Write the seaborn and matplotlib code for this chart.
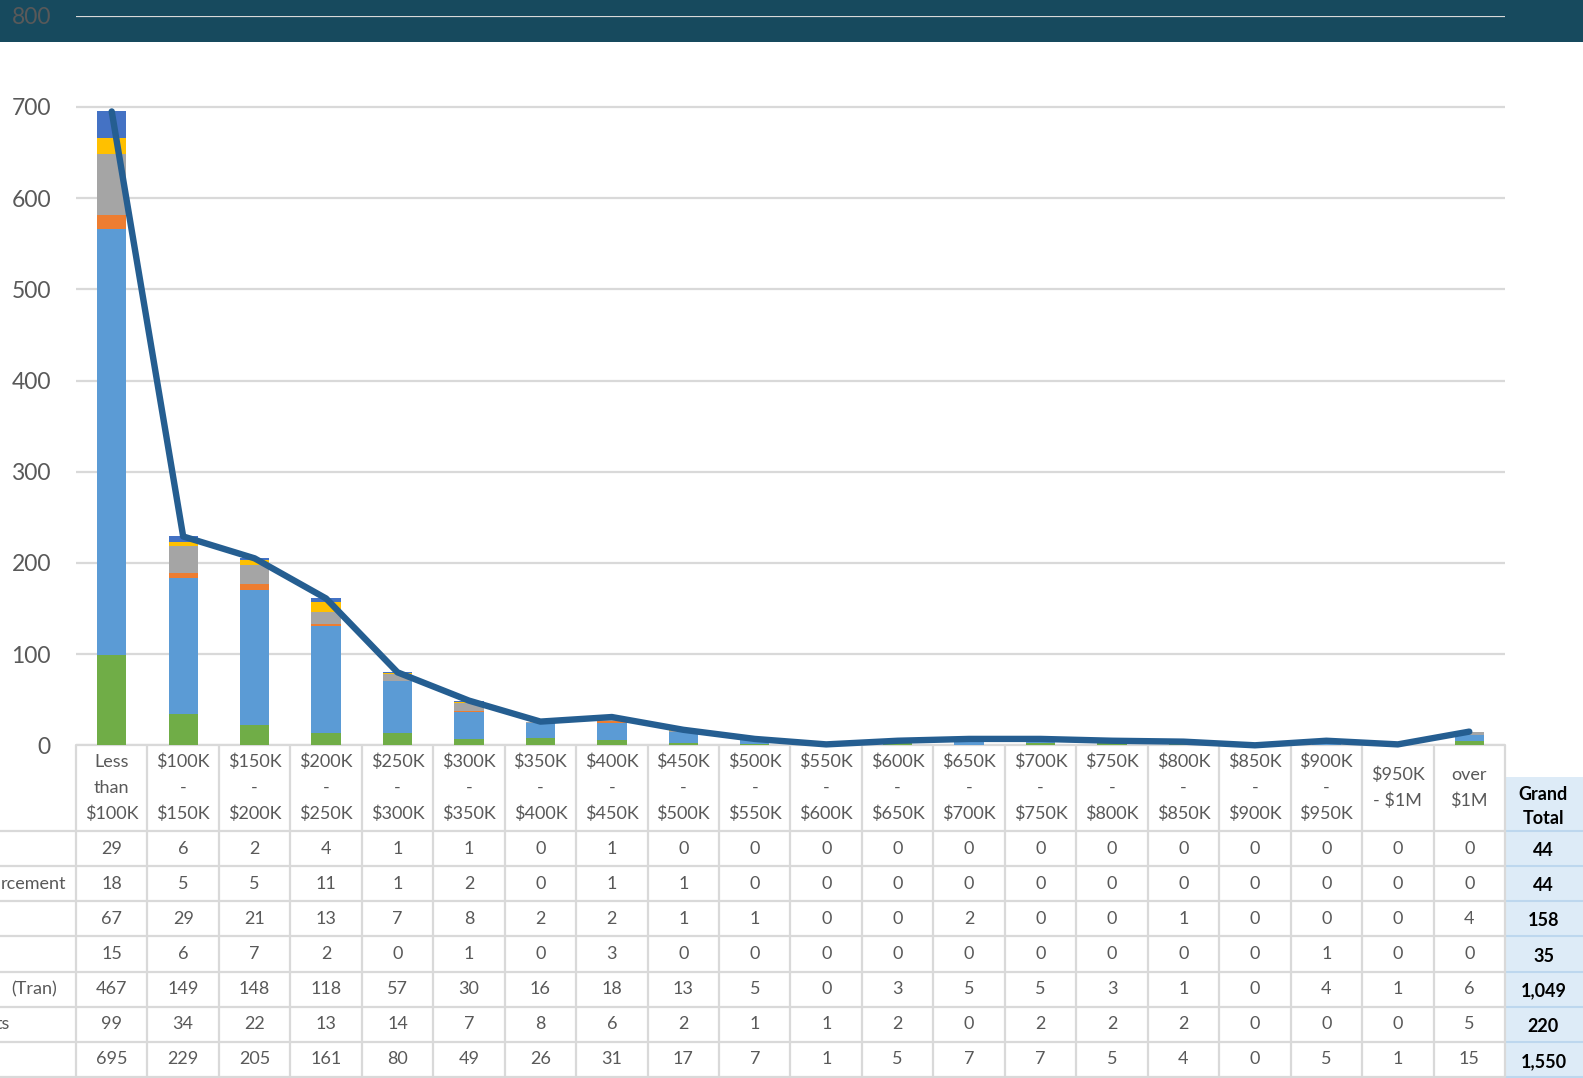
import numpy as np
import pandas as pd
import matplotlib
matplotlib.use("Agg")
import matplotlib.pyplot as plt
from matplotlib.patches import Rectangle
import seaborn as sns

# ---------------- data ----------------
categories = ["Less\nthan\n$100K", "$100K\n-\n$150K", "$150K\n-\n$200K", "$200K\n-\n$250K",
              "$250K\n-\n$300K", "$300K\n-\n$350K", "$350K\n-\n$400K", "$400K\n-\n$450K",
              "$450K\n-\n$500K", "$500K\n-\n$550K", "$550K\n-\n$600K", "$600K\n-\n$650K",
              "$650K\n-\n$700K", "$700K\n-\n$750K", "$750K\n-\n$800K", "$800K\n-\n$850K",
              "$850K\n-\n$900K", "$900K\n-\n$950K", "$950K\n- $1M", "over\n$1M"]

series_1 = [29, 6, 2, 4, 1, 1, 0, 1, 0, 0, 0, 0, 0, 0, 0, 0, 0, 0, 0, 0]          # dark blue
series_2 = [18, 5, 5, 11, 1, 2, 0, 1, 1, 0, 0, 0, 0, 0, 0, 0, 0, 0, 0, 0]         # yellow
series_3 = [67, 29, 21, 13, 7, 8, 2, 2, 1, 1, 0, 0, 2, 0, 0, 1, 0, 0, 0, 4]       # gray
series_4 = [15, 6, 7, 2, 0, 1, 0, 3, 0, 0, 0, 0, 0, 0, 0, 0, 0, 1, 0, 0]          # orange
series_5 = [467, 149, 148, 118, 57, 30, 16, 18, 13, 5, 0, 3, 5, 5, 3, 1, 0, 4, 1, 6]  # light blue
series_6 = [99, 34, 22, 13, 14, 7, 8, 6, 2, 1, 1, 2, 0, 2, 2, 2, 0, 0, 0, 5]      # green
totals = [695, 229, 205, 161, 80, 49, 26, 31, 17, 7, 1, 5, 7, 7, 5, 4, 0, 5, 1, 15]

row_label_fragments = ["", "rcement", "", "", "(Tran)", "ts", ""]

y_ticks = [0, 100, 200, 300, 400, 500, 600, 700, 800]

# ---------------- style ----------------
sns.set_theme(style="white")
plt.rcParams['font.family'] = ['Lato', 'DejaVu Sans']

TXT = '#595959'
GRID = '#D9D9D9'
FS = 13
series_colors = {'s1': '#4472C4', 's2': '#FFC000', 's3': '#A5A5A5',
                 's4': '#ED7D31', 's5': '#5B9BD5', 's6': '#70AD47'}

W, H = 1583, 1078
L, R = 76, 1505
Y0, YTOP = 745.3, 15.7

fig = plt.figure(figsize=(W / 100, H / 100), dpi=100)
fig.patch.set_facecolor('white')

bg = fig.add_axes([0, 0, 1, 1])
bg.set_xlim(0, W)
bg.set_ylim(H, 0)
bg.axis('off')
bg.set_zorder(0)

ax = fig.add_axes([L / W, (H - Y0) / H, (R - L) / W, (Y0 - YTOP) / H])
ax.set_zorder(1)
ax.patch.set_alpha(0)

# top dark band
bg.add_patch(Rectangle((0, 0), W, 41.7, facecolor='#174A5E', lw=0))

# ---------------- stacked bars (bottom -> top) ----------------
stack = [('s6', series_6), ('s5', series_5), ('s4', series_4),
         ('s3', series_3), ('s2', series_2), ('s1', series_1)]
cum = np.cumsum(np.array([s for _, s in stack], dtype=float), axis=0)
for k in reversed(range(len(stack))):
    df = pd.DataFrame({'cat': categories, 'v': cum[k]})
    sns.barplot(data=df, x='cat', y='v', order=categories, color=series_colors[stack[k][0]],
                saturation=1, width=0.41, errorbar=None, linewidth=0, ax=ax)

dfl = pd.DataFrame({'cat': categories, 'v': totals})
sns.lineplot(data=dfl, x='cat', y='v', sort=False, color='#255E91', linewidth=4.6, ax=ax)
for ln in ax.lines:
    ln.set_solid_capstyle('round')
    ln.set_solid_joinstyle('round')
    ln.set_clip_on(False)
    ln.set_zorder(5)

ax.set_xlim(-0.5, 19.5)
ax.set_ylim(0, 800)
ax.set_yticks(y_ticks)
ax.set_xticks([])
ax.set_xlabel('')
ax.set_ylabel('')
ax.yaxis.grid(True, color=GRID, linewidth=1.6)
ax.set_axisbelow(True)
for sp in ax.spines.values():
    sp.set_visible(False)
ax.tick_params(axis='y', length=0, pad=18, labelsize=16.5, labelcolor=TXT)

# ---------------- data table ----------------
ncol = len(categories)
col_w = (R - L) / ncol
edges = L + np.arange(ncol + 1) * col_w
centers = (edges[:-1] + edges[1:]) / 2
row_top = 831.0
row_h = (1077.0 - row_top) / 7
row_edges = row_top + np.arange(8) * row_h

# grand total column background
GT_L = 1504
bg.add_patch(Rectangle((GT_L, 777), W - GT_L, H - 777, facecolor='#DDEBF7', lw=0, zorder=1))
for y in row_edges:
    bg.plot([GT_L, W], [y, y], color='#BDD7EE', lw=1.5, zorder=2)

# grid lines
for x in edges:
    bg.plot([x, x], [Y0, row_edges[-1]], color=GRID, lw=1.6, zorder=3, solid_capstyle='butt')
bg.plot([L, R], [Y0, Y0], color=GRID, lw=1.6, zorder=3)
for y in row_edges:
    bg.plot([0, R], [y, y], color=GRID, lw=1.6, zorder=3)

# headers
for cx, lab in zip(centers, categories):
    lines = lab.split('\n')
    n = len(lines)
    for j, t in enumerate(lines):
        bg.text(cx, 788 + (j - (n - 1) / 2) * 26, t, ha='center', va='center',
                fontsize=FS, color=TXT, zorder=4)

gt_cx = (GT_L + W) / 2
bg.text(gt_cx, 795, 'Grand', ha='center', va='center', fontsize=FS,
        fontweight='bold', color='black', zorder=4)
bg.text(gt_cx, 819, 'Total', ha='center', va='center', fontsize=FS,
        fontweight='bold', color='black', zorder=4)

rows = [series_1, series_2, series_3, series_4, series_5, series_6, totals]
label_right = [None, 66.7, None, None, 57.0, 10.0, None]
for i, vals in enumerate(rows):
    cy = (row_edges[i] + row_edges[i + 1]) / 2
    for cx, v in zip(centers, vals):
        bg.text(cx, cy, f"{v}", ha='center', va='center', fontsize=FS, color=TXT, zorder=4)
    bg.text(gt_cx, cy + 2, f"{sum(vals):,}", ha='center', va='center', fontsize=FS,
            fontweight='bold', color='black', zorder=4)
    if row_label_fragments[i]:
        bg.text(label_right[i], cy, row_label_fragments[i], ha='right', va='center',
                fontsize=FS, color=TXT, zorder=4)

fig.savefig('out.png', dpi=100)
